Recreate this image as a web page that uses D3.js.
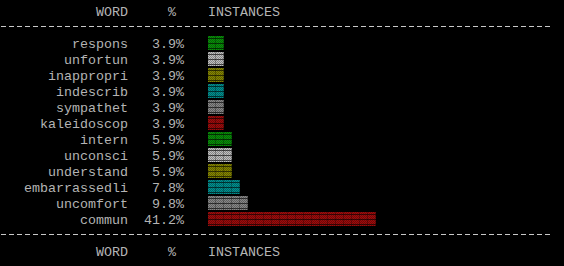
<!DOCTYPE html>
<html>
<head>
<meta charset="utf-8">
<script src="https://cdn.jsdelivr.net/npm/d3@7"></script>
<style>
  html, body { margin: 0; padding: 0; background: #000; }
  #chart { width: 564px; height: 266px; }
  text { font-family: "Courier New", "Liberation Mono", monospace; font-size: 13.333px; fill: #b4b4b4; }
</style>
</head>
<body>
<div id="chart"></div>
<script>
// word stems, how often they occur, and the console colour of each bar
const words = ["respons", "unfortun", "inappropri", "indescrib", "sympathet", "kaleidoscop",
               "intern", "unconsci", "understand", "embarrassedli", "uncomfort", "commun"];
const counts = [2, 2, 2, 2, 2, 2, 3, 3, 3, 4, 5, 21];
const barColors = ["#089008", "#c0c0c0", "#868600", "#009090", "#888888", "#a00c0c",
                   "#089008", "#c0c0c0", "#868600", "#009090", "#888888", "#a00c0c"];
const headers = ["WORD", "%", "INSTANCES"];

const total = d3.sum(counts);
const fmtPct = d3.format(".1%");

const width = 564, height = 266;
const charW = 8, rowH = 16;

const svg = d3.select("#chart")
    .append("svg")
    .attr("width", width)
    .attr("height", height);

svg.append("rect").attr("width", width).attr("height", height).attr("fill", "#000");

const defs = svg.append("defs");

// dither of the shade glyph
const dither = defs.append("pattern")
    .attr("id", "dither")
    .attr("patternUnits", "userSpaceOnUse")
    .attr("width", 2).attr("height", 2);
dither.append("rect").attr("x", 0).attr("y", 0).attr("width", 1).attr("height", 1).attr("fill", "#000").attr("opacity", 0.3);
dither.append("rect").attr("x", 1).attr("y", 1).attr("width", 1).attr("height", 1).attr("fill", "#000").attr("opacity", 0.3);

// dark bands between the glyph rows
const bands = defs.append("pattern")
    .attr("id", "bands")
    .attr("patternUnits", "userSpaceOnUse")
    .attr("x", 0).attr("y", 36)
    .attr("width", 8).attr("height", rowH);
[2, 7, 12].forEach(y => {
    bands.append("rect").attr("x", 0).attr("y", y).attr("width", 8).attr("height", 1)
        .attr("fill", "#000").attr("opacity", 0.6);
});
bands.append("rect").attr("x", 7).attr("y", 0).attr("width", 1).attr("height", rowH)
    .attr("fill", "#000").attr("opacity", 0.25);

const xScale = d3.scaleLinear()
    .domain([0, 21])
    .range([208, 208 + 21 * charW]);

const yScale = d3.scaleBand()
    .domain(words)
    .range([36, 36 + words.length * rowH]);

// header rows
function headerRow(baseline) {
    svg.append("text").attr("x", 128).attr("y", baseline).attr("text-anchor", "end").text(headers[0]);
    svg.append("text").attr("x", 168).attr("y", baseline).text(headers[1]);
    svg.append("text").attr("x", 208).attr("y", baseline).text(headers[2]);
}
headerRow(15.5);
headerRow(255.5);

// dashed rules
[26.5, 234.5].forEach(y => {
    svg.append("line")
        .attr("x1", 1).attr("x2", 553)
        .attr("y1", y).attr("y2", y)
        .attr("stroke", "#c8c8c8")
        .attr("stroke-width", 1)
        .attr("stroke-dasharray", "5 3");
});

const rows = svg.selectAll("g.row")
    .data(words)
    .enter().append("g")
    .attr("class", "row");

rows.append("text")
    .attr("x", 128)
    .attr("y", d => yScale(d) + 11.5)
    .attr("text-anchor", "end")
    .text(d => d);

rows.append("text")
    .attr("x", 184)
    .attr("y", d => yScale(d) + 11.5)
    .attr("text-anchor", "end")
    .text((d, i) => fmtPct(counts[i] / total));

rows.append("rect")
    .attr("x", xScale(0))
    .attr("y", d => yScale(d))
    .attr("width", (d, i) => xScale(counts[i]) - xScale(0))
    .attr("height", 14)
    .attr("fill", (d, i) => barColors[i]);

rows.append("rect")
    .attr("x", xScale(0))
    .attr("y", d => yScale(d))
    .attr("width", (d, i) => xScale(counts[i]) - xScale(0))
    .attr("height", 14)
    .attr("fill", "url(#dither)");

rows.append("rect")
    .attr("x", xScale(0))
    .attr("y", d => yScale(d))
    .attr("width", (d, i) => xScale(counts[i]) - xScale(0))
    .attr("height", 14)
    .attr("fill", "url(#bands)");
</script>
</body>
</html>
